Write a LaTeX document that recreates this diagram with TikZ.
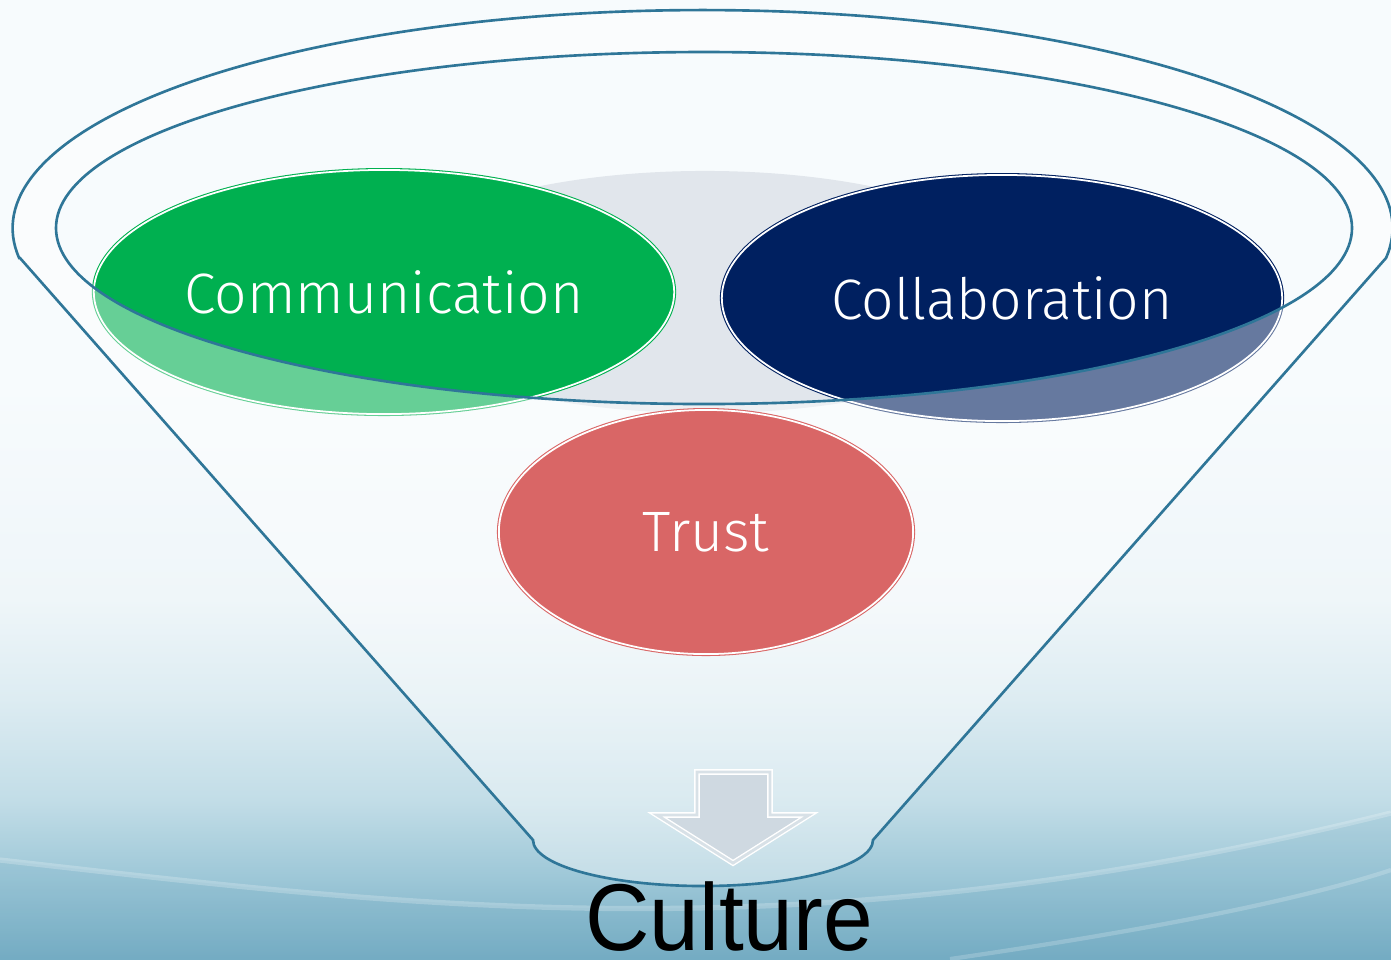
\documentclass[tikz,border=0pt]{standalone}
\usepackage{fontspec}
\setmainfont{Fira Sans Light}
\newfontfamily\culturefont{Liberation Sans}
\usetikzlibrary{shapes.geometric}

\definecolor{bgtop}{HTML}{F7FBFD}
\definecolor{bgpale}{HTML}{EFF6F9}
\definecolor{bgmid}{HTML}{DDECF2}
\definecolor{bglow}{HTML}{C2DDE7}
\definecolor{bgdeep}{HTML}{9DC7D7}
\definecolor{bgbot}{HTML}{74ACC3}
\definecolor{funnelblue}{HTML}{2F7698}
\definecolor{commgreen}{HTML}{00B050}
\definecolor{collabnavy}{HTML}{002060}
\definecolor{trustred}{HTML}{C00000}
\definecolor{backgrey}{HTML}{E1E6EC}
\definecolor{arrowfill}{HTML}{AFC0CD}

% 25bp = bottom edge, 75bp = top edge of the filled box
\pgfdeclareverticalshading{slideshade}{100bp}{color(0bp)=(bgbot); color(25bp)=(bgbot); color(29.2bp)=(bgdeep);
  color(33.3bp)=(bglow); color(38.6bp)=(bgmid); color(43.8bp)=(bgpale); color(55bp)=(bgtop); color(75bp)=(bgtop); color(100bp)=(bgtop)}

\begin{document}
\begin{tikzpicture}[x=0.01cm, y=-0.01cm,
    blob/.style={ellipse, draw=#1, fill=#1, double=white, double distance=0.5pt, line width=0.3pt,
      text=white, font=\fontsize{16.2}{20}\selectfont, inner sep=0pt},
    funnelline/.style={draw=funnelblue, line width=0.75pt}]
        % Background of the slide
        \useasboundingbox (0,0) rectangle (1391,959);
        \clip (0,0) rectangle (1391,959);
        \shade[shading=slideshade] (0,0) rectangle (1391,959);
        \fill[bgbot, opacity=0.18] (0,860) .. controls (400,905) and (800,960) .. (1391,813) -- (1391,959) -- (0,959) -- cycle;
        \draw[white, opacity=0.22, line width=1.5pt] (0,860) .. controls (400,905) and (800,960) .. (1391,813);
        \draw[white, opacity=0.2, line width=1.2pt] (950,959) .. controls (1150,930) and (1300,900) .. (1391,870);

        % Ellipses inside the funnel
        \node[ellipse, fill=backgrey, minimum width=6.8cm, minimum height=2.42cm] (backdrop) at (705,292) {};
        \node[blob=commgreen, minimum width=5.8cm, minimum height=2.44cm] (comm) at (384,292) {Communication};
        \node[blob=collabnavy, minimum width=5.6cm, minimum height=2.46cm] (collab) at (1002,298) {Collaboration};
        \node[blob=trustred, minimum width=4.14cm, minimum height=2.44cm] (trust) at (706,532) {Trust};

        % Arrow down to the outcome
        \draw[fill=arrowfill, draw=white, double=arrowfill!80!white, line width=0.4pt, double distance=0.8pt]
          (697,772) -- (770,772) -- (770,815) -- (809,815) -- (733,863) -- (657,815) -- (697,815) -- cycle;

        % Front glass of the funnel
        \fill[white, opacity=0.4, even odd rule]
          (20,258) -- (533,840) arc[start angle=180, end angle=0, x radius=170, y radius=46]
          -- (1386,258) arc[start angle=7.9, end angle=-187.9, x radius=690, y radius=218] -- cycle
          (704,228) ellipse [x radius=648, y radius=176];

        % Funnel outline
        \draw[funnelline] (20,258) -- (533,840) arc[start angle=180, end angle=0, x radius=170, y radius=46]
          -- (1386,258) arc[start angle=7.9, end angle=-187.9, x radius=690, y radius=218] -- cycle;  % outer rim and sides
        \draw[funnelline] (704,228) ellipse [x radius=648, y radius=176];  % inner rim

        % Outcome label
        \node[anchor=base, inner sep=0pt] (culture) at (729,950) {\culturefont\fontsize{27}{31}\selectfont\scalebox{0.94}[1]{Culture}};
    \end{tikzpicture}
\end{document}
